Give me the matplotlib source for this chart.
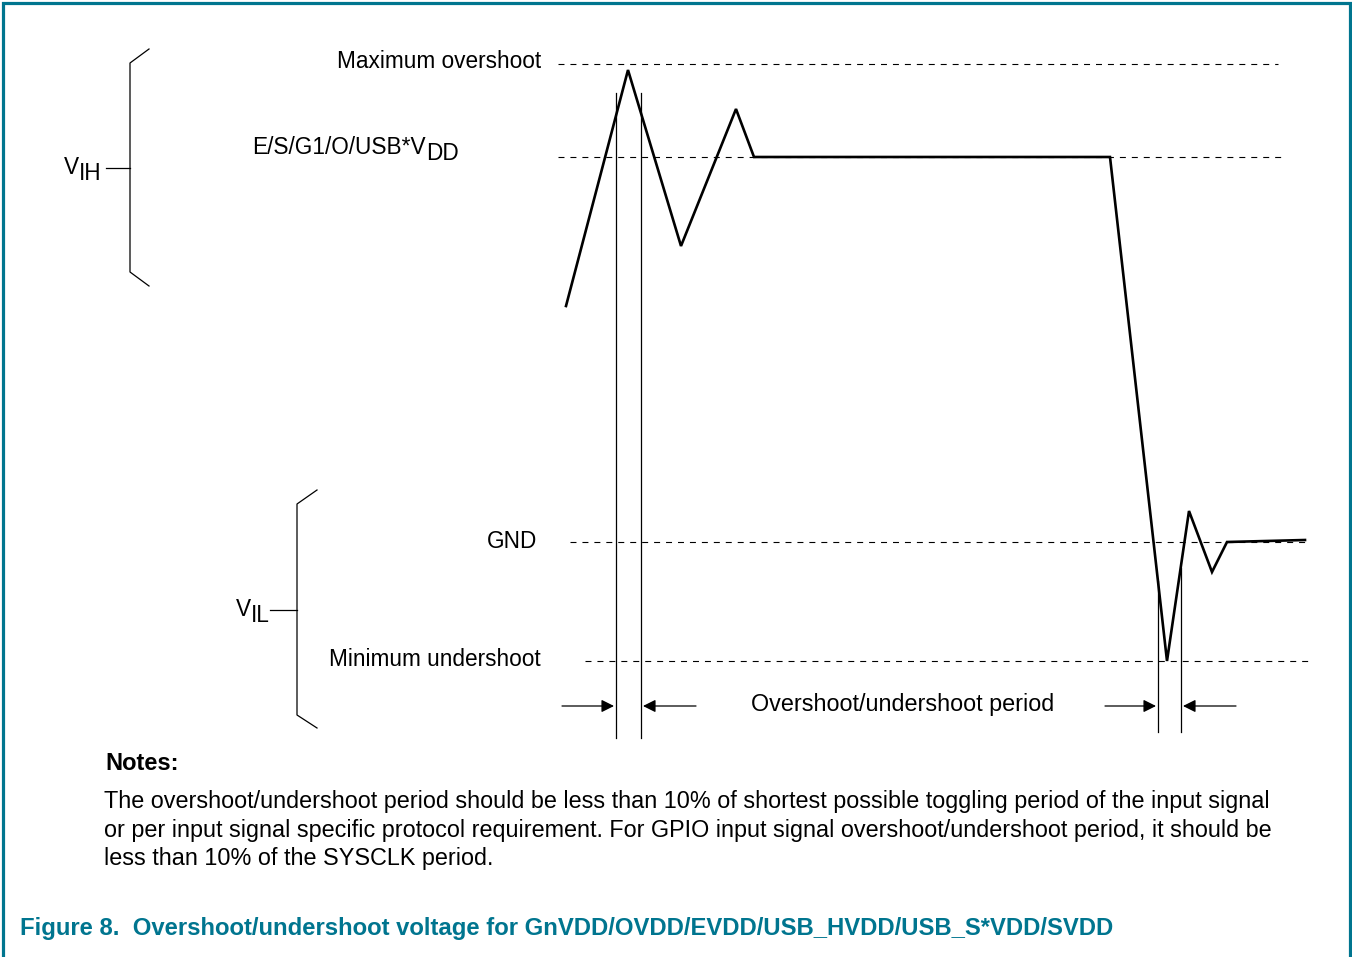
import matplotlib
matplotlib.use("Agg")
import matplotlib.pyplot as plt

plt.rcParams['font.family'] = ['Liberation Sans', 'DejaVu Sans']
plt.rcParams['lines.scale_dashes'] = False

# waveform corner points (diagram units, y grows downward)
wave_x = [566, 628, 681, 736, 754, 1110, 1167, 1189, 1212, 1227, 1305]
wave_y = [306, 70, 246, 109, 157, 157, 661, 511, 572, 542, 540]

# reference levels (dashed)
level_y = [64, 157, 542, 661]
level_x0 = [558, 558, 570, 585]
level_x1 = [1278, 1285, 1305, 1308]

# period markers
period_x = [616, 641, 1158, 1181]
period_top = [93, 93, 581, 568]
period_bot = [738, 738, 732, 732]
arrow_y = 706

notes = ("The overshoot/undershoot period should be less than 10% of shortest possible toggling period of the input signal\n"
         "or per input signal specific protocol requirement. For GPIO input signal overshoot/undershoot period, it should be\n"
         "less than 10% of the SYSCLK period.")
title = "Figure 8.  Overshoot/undershoot voltage for GnVDD/OVDD/EVDD/USB_HVDD/USB_S*VDD/SVDD"

teal = '#00758f'
fs = 16.3

fig = plt.figure(figsize=(13.52, 9.57), dpi=100)
ax = fig.add_axes([0, 0, 1, 1])
ax.set_xlim(0, 1352)
ax.set_ylim(957, 0)
ax.axis('off')

# frame
ax.plot([3, 3, 1350, 1350], [960, 3, 3, 960], color=teal, lw=2.3, solid_joinstyle='miter')

# dashed levels
for y, x0, x1 in zip(level_y, level_x0, level_x1):
    ax.plot([x0, x1], [y, y], color='black', lw=0.8, linestyle=(0, (4.3, 4.3)))

# signal
ax.plot(wave_x, wave_y, color='black', lw=1.9, solid_joinstyle='miter')

# period lines
for x, t, b in zip(period_x, period_top, period_bot):
    ax.plot([x, x], [t, b], color='black', lw=0.9)

# arrows
arr = dict(arrowstyle='-|>', color='black', lw=0.9, mutation_scale=19, shrinkA=0, shrinkB=0)
ax.annotate('', xy=(614, arrow_y), xytext=(562, arrow_y), arrowprops=arr)
ax.annotate('', xy=(643, arrow_y), xytext=(696, arrow_y), arrowprops=arr)
ax.annotate('', xy=(1156, arrow_y), xytext=(1105, arrow_y), arrowprops=arr)
ax.annotate('', xy=(1183, arrow_y), xytext=(1236, arrow_y), arrowprops=arr)

# brackets
ax.plot([149, 130, 130, 149], [49, 63, 272, 286], color='black', lw=0.9)
ax.plot([106, 130], [168, 168], color='black', lw=0.9)
ax.plot([317, 297, 297, 317], [490, 504, 715, 728], color='black', lw=0.9)
ax.plot([270, 297], [610, 610], color='black', lw=0.9)

# level labels
ax.text(541, 62, "Maximum overshoot", ha='right', va='center', fontsize=fs)
ax.text(537, 541, "GND", ha='right', va='center', fontsize=fs)
ax.text(541, 660, "Minimum undershoot", ha='right', va='center', fontsize=fs)
ax.text(903, 704, "Overshoot/undershoot period", ha='center', va='center', fontsize=16.8)


def sub_label(x, y, main, sub):
    t = ax.text(x, y, main, ha='left', va='baseline', fontsize=fs)
    ax.annotate(sub, xy=(1, 0), xycoords=t, xytext=(0, -0.5), textcoords='offset points',
                ha='left', va='baseline', fontsize=fs)


sub_label(252, 154, "E/S/G1/O/USB*V", "DD")
sub_label(64, 174, "V", "IH")
sub_label(236, 616, "V", "IL")

# notes
ax.text(105, 763, "Notes:", ha='left', va='center', fontsize=17, fontweight='bold')
ax.text(104, 830, notes, ha='left', va='center', fontsize=16.8, linespacing=1.33)

ax.text(20, 928, title, ha='left', va='center', fontsize=17.2, fontweight='bold', color=teal)

fig.savefig('out.png', dpi=100)
